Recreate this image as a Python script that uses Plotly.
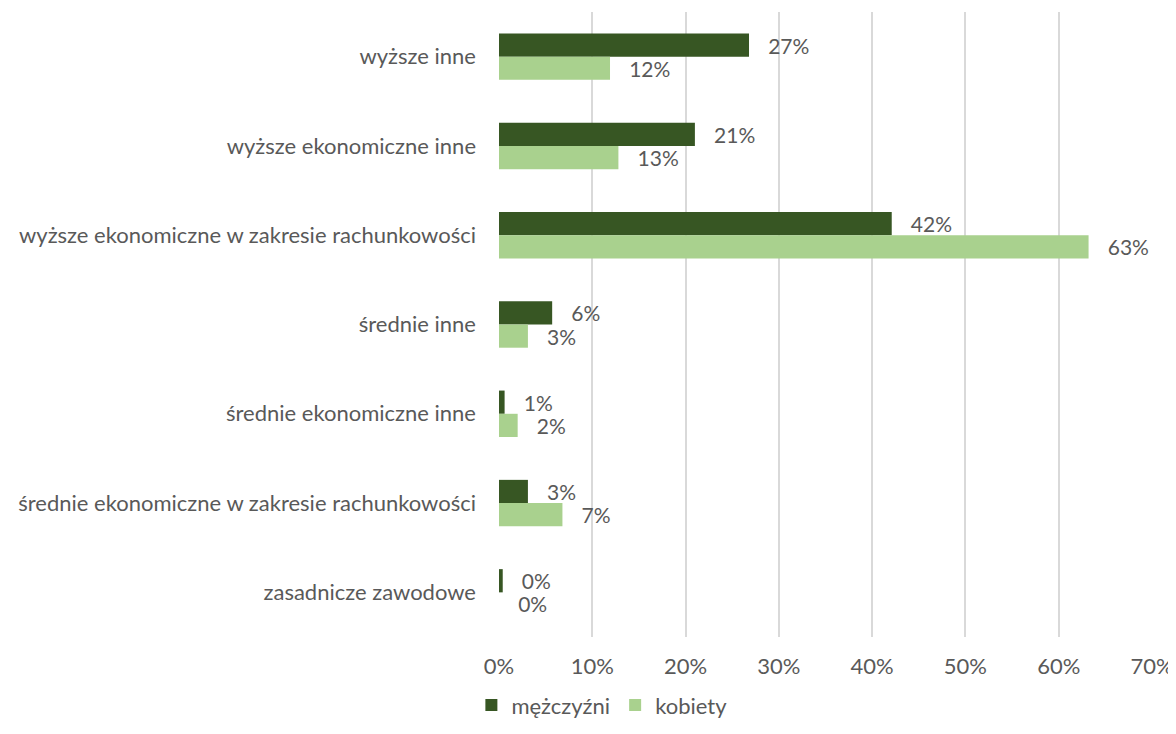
import plotly.graph_objects as go

# kategorie wykształcenia (od góry)
kategorie = [
    "wyższe inne",
    "wyższe ekonomiczne inne",
    "wyższe ekonomiczne w zakresie rachunkowości",
    "średnie inne",
    "średnie ekonomiczne inne",
    "średnie ekonomiczne w zakresie rachunkowości",
    "zasadnicze zawodowe",
]
mezczyzni = [26.8, 21.0, 42.1, 5.7, 0.6, 3.1, 0.4]
kobiety = [11.9, 12.8, 63.2, 3.1, 2.0, 6.8, 0.0]
x_ticks = [0, 10, 20, 30, 40, 50, 60, 70]
x_labels = [f"{v}%" for v in x_ticks]

FONT = "Lato, 'Open Sans', sans-serif"
TXT = "#595959"
FS = 22
FS_LBL = 21

fig = go.Figure()
fig.add_trace(go.Bar(
    y=kategorie, x=mezczyzni, name="mężczyźni", orientation="h",
    marker=dict(color="#375623", line=dict(width=0)),
    texttemplate="   %{x:.0f}%", textposition="outside",
    textfont=dict(size=FS_LBL, color=TXT, family=FONT), cliponaxis=False,
))
fig.add_trace(go.Bar(
    y=kategorie, x=kobiety, name="kobiety", orientation="h",
    marker=dict(color="#A9D18E", line=dict(width=0)),
    texttemplate="   %{x:.0f}%", textposition="outside",
    textfont=dict(size=FS_LBL, color=TXT, family=FONT), cliponaxis=False,
))

fig.update_layout(
    barmode="group",
    bargap=0.48,
    bargroupgap=0,
    width=1176,
    height=734,
    margin=dict(l=491, r=32, t=4, b=105, autoexpand=False),
    plot_bgcolor="white",
    paper_bgcolor="white",
    font=dict(family=FONT, size=FS, color=TXT),
    legend=dict(orientation="h", xref="container", x=0.505, xanchor="center",
                yref="container", y=0.05, yanchor="middle",
                bgcolor="rgba(0,0,0,0)",
                font=dict(size=FS, color=TXT), traceorder="normal"),
    uniformtext=dict(minsize=FS_LBL, mode="show"),
)
fig.update_xaxes(
    range=[0, 70], tickvals=x_ticks, ticktext=x_labels,
    showgrid=True, gridcolor="#D9D9D9", gridwidth=2,
    zeroline=False, showline=False, ticklabelstandoff=14,
    tickfont=dict(size=FS, color=TXT),
)
fig.update_yaxes(
    autorange="reversed", showgrid=False, showline=False,
    ticklabelstandoff=22, tickfont=dict(size=FS, color=TXT),
)

fig.write_html("out.html")
